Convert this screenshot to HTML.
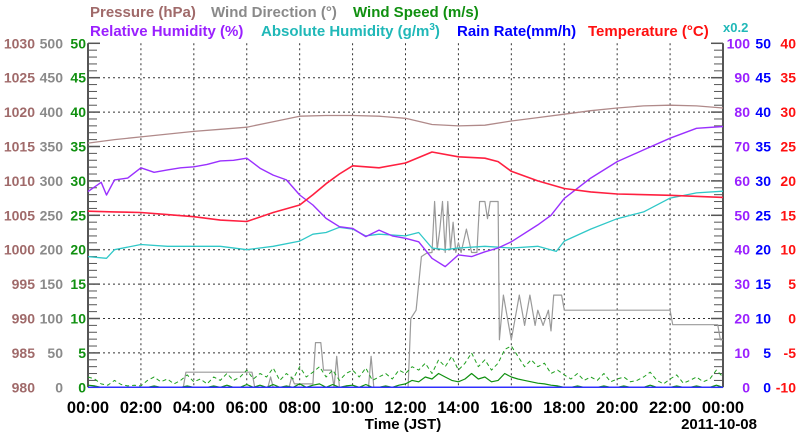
<!DOCTYPE html>
<html><head><meta charset="utf-8"><style>
html,body{margin:0;padding:0;background:#fff;}
svg{display:block;font-family:"Liberation Sans",Arial,sans-serif;}
</style></head><body>
<svg id="chart" width="800" height="434" viewBox="0 0 800 434" xmlns="http://www.w3.org/2000/svg">
<g font-size="15" font-weight="bold">
<text x="90" y="17" fill="#a06a6a">Pressure (hPa)</text>
<text x="211" y="17" fill="#8a8a8a">Wind Direction (°)</text>
<text x="353" y="17" fill="#109010">Wind Speed (m/s)</text>
<text x="90" y="36" fill="#9a20ff">Relative Humidity (%)</text>
<text x="261" y="36" fill="#20b8b8">Absolute Humidity (g/m<tspan font-size="10" dy="-6">3</tspan><tspan dy="6">)</tspan></text>
<text x="457" y="36" fill="#0000ff">Rain Rate(mm/h)</text>
<text x="588" y="36" fill="#ff1010">Temperature (°C)</text>
<text x="723" y="32" fill="#20b8b8" font-size="13">x0.2</text>
</g>
<g id="grid"></g>
<g id="axes"></g>
<g id="series"></g>
<text x="403" y="429" text-anchor="middle" font-size="15" font-weight="bold">Time (JST)</text>
<text x="757" y="429" text-anchor="end" font-size="15" font-weight="bold">2011-10-08</text>
</svg>
<script>
// ---- data ----
const xTickLabels = ["00:00","02:00","04:00","06:00","08:00","10:00","12:00","14:00","16:00","18:00","20:00","22:00","00:00"];
const pressureTicks = ["980","985","990","995","1000","1005","1010","1015","1020","1025","1030"];
const windDirTicks = ["0","50","100","150","200","250","300","350","400","450","500"];
const windSpeedTicks = ["0","5","10","15","20","25","30","35","40","45","50"];
const rhTicks = ["0","10","20","30","40","50","60","70","80","90","100"];
const rainTicks = ["0","5","10","15","20","25","30","35","40","45","50"];
const tempTicks = ["-10","-5","0","5","10","15","20","25","30","35","40"];

const pressureTimes = [0,1,2,3,4,5,6,7,8,9,10,11,12,13,14,15,16,17,18,19,20,21,22,23,24];
const pressureVals = [1015.5,1016.0,1016.4,1016.8,1017.2,1017.5,1017.8,1018.6,1019.4,1019.5,1019.5,1019.4,1019.1,1018.2,1018.0,1018.1,1018.7,1019.2,1019.7,1020.2,1020.6,1020.9,1021.0,1020.9,1020.6];

const tempTimes = [0,1,2,3,4,5,6,7,8,8.5,9,9.5,10,11,12,13,14,15,15.5,16,17,18,19,20,22,24];
const tempVals = [15.6,15.5,15.4,15.1,14.8,14.3,14.1,15.4,16.5,18.0,19.6,21.0,22.2,21.9,22.6,24.2,23.5,23.3,22.8,21.4,20.0,18.9,18.4,18.1,17.9,17.6];

const rhTimes = [0,0.5,0.7,1,1.5,2,2.5,3,3.5,4,4.5,5,5.5,6,6.5,7,7.5,8,8.5,9,9.5,10,10.5,11,11.5,12,12.5,13,13.5,14,14.5,15,15.5,16,17,17.5,18,19,20,21,22,23,24];
const rhVals = [56.9,59.6,55.9,60.3,60.8,63.8,62.5,63.2,63.8,64.1,64.8,65.8,66.0,66.6,63.7,61.7,60.3,55.9,53.0,49.1,46.7,46.2,43.8,45.7,44.0,43.3,42.3,37.5,35.1,38.5,38.0,39.4,40.5,42.3,47.2,50.0,54.9,60.8,65.6,69.0,72.4,75.3,75.8];

const absHumTimes = [0,0.7,1,2,3,4,5,6,7,8,8.5,9,9.5,10,10.5,11,12,12.5,13,13.5,14,15,16,17,17.7,18,19,20,21,22,23,24];
const absHumVals = [7.6,7.5,8.0,8.3,8.2,8.2,8.2,8.0,8.2,8.5,8.9,9.0,9.3,9.2,8.8,8.9,8.8,9.0,8.1,8.0,8.1,8.2,8.1,8.2,7.9,8.5,9.2,9.8,10.2,11.0,11.3,11.4];

const windDirTimes = [0,3.6,3.7,6.2,6.3,6.8,6.9,7.0,7.6,7.7,7.8,8.5,8.6,8.8,8.9,9.2,9.3,9.4,9.5,10.6,10.7,10.8,12.1,12.2,12.4,12.6,12.8,13.0,13.1,13.2,13.3,13.4,13.5,13.6,13.7,13.8,13.9,14.0,14.1,14.3,14.5,14.7,14.8,15.0,15.1,15.2,15.5,15.55,15.7,15.9,16.0,16.2,16.3,16.5,16.7,16.9,17.0,17.2,17.4,17.5,17.6,17.9,18.0,22.0,22.1,23.8,23.9,24];
const windDirVals = [0,0,22,22,0,0,15,0,0,15,5,5,65,65,25,25,0,45,0,0,45,0,0,100,112,190,195,196,270,200,230,270,196,270,200,240,196,210,196,230,196,196,270,270,245,270,270,69,134,90,69,112,134,90,134,90,112,90,112,82,134,134,112,112,91,91,69,69];

const windGust = [1.5,1.2,0.5,0.3,1.0,0.4,0.2,0.3,0.2,1.0,1.5,0.8,1.2,0.5,1.0,1.8,0.8,1.2,0.5,1.5,1.0,2.0,1.0,1.5,2.5,1.2,2.0,1.5,2.8,1.0,2.0,1.2,3.0,1.5,2.2,3.0,1.5,2.5,1.0,2.0,2.5,1.5,2.8,1.0,1.5,2.0,1.2,2.5,2.0,3.0,2.5,3.5,2.0,4.0,3.0,4.5,2.5,3.5,5.0,3.0,4.0,2.5,3.5,5.5,6.0,4.5,3.0,4.0,3.0,3.5,2.0,2.5,1.8,1.2,2.0,1.0,1.5,1.0,2.0,0.8,1.2,1.5,0.8,1.0,1.5,2.2,1.0,0.5,1.2,1.8,0.6,1.0,1.5,0.8,1.2,2.5,1.5];
const windAvg = [0.3,0.2,0,0,0,0,0,0,0,0,0.2,0,0,0,0,0.2,0,0,0,0.2,0,0.3,0,0,0.4,0,0.3,0,0.4,0,0.2,0,0.5,0,0.3,0.5,0,0.4,0,0.2,0.3,0,0.4,0,0,0.2,0,0.3,0.5,1.0,0.8,1.5,1.2,2.0,1.5,1.0,0.8,1.2,2.0,1.2,1.5,0.8,1.0,2.0,1.5,1.2,1.0,0.8,0.6,0.5,0.3,0.2,0,0,0.2,0,0,0,0.2,0,0,0.2,0,0,0,0.3,0,0,0,0.2,0,0,0.2,0,0,0.3,0];
const rainTimes = [0,24];
const rainVals = [0,0];

// ---- axes ----
const X0=88, X1=723, Y0=387.3, Y1=43.3;
const xS = t => X0 + t/24*(X1-X0);
const frac = f => Y0 - f*(Y0-Y1);
const yPressure = v => frac((v-980)/50);
const yTemp = v => frac((v+10)/50);
const yRH = v => frac(v/100);
const yAbs = v => frac(v/0.2/100);
const yDir = v => frac(v/500);
const ySpeed = v => frac(v/50);
const yRain = v => frac(v/50);

const NS="http://www.w3.org/2000/svg";
function mk(tag, attrs, parent){const e=document.createElementNS(NS,tag);for(const k in attrs)e.setAttribute(k,attrs[k]);parent.appendChild(e);return e;}
const grid=document.getElementById('grid'), axes=document.getElementById('axes'), series=document.getElementById('series');

for(let i=1;i<10;i++){
  const y=frac(i/10);
  const l=mk('line',{x1:X0,x2:X1,y1:y,y2:y,stroke:'#333','stroke-width':1,'stroke-dasharray':'2,3'},grid);
  
  
}
for(let i=1;i<12;i++){
  const x=xS(i*2);
  const l=mk('line',{x1:x,x2:x,y1:Y1,y2:Y0,stroke:'#333','stroke-width':1,'stroke-dasharray':'2,3'},grid);
  
  
}
let al=mk('line',{x1:X0,x2:X0,y1:Y1,y2:Y0,stroke:'#555','stroke-width':2},axes);
 
al=mk('line',{x1:X1,x2:X1,y1:Y1,y2:Y0,stroke:'#555','stroke-width':2},axes);
 
for(let i=0;i<=50;i++){
  const y=frac(i/50); const major=i%5===0; const len=major?12:9;
  let t=mk('line',{x1:X0,x2:X0+len,y1:y,y2:y,stroke:'#555','stroke-width':major?1.5:1},axes);
   
  t=mk('line',{x1:X1-len,x2:X1,y1:y,y2:y,stroke:'#555','stroke-width':major?1.5:1},axes);
   
}
function label(txt,x,y,anchor,color,name){
  const t=mk('text',{x:x,y:y,'text-anchor':anchor,fill:color,'font-size':14,'font-weight':'bold'},axes);
  t.textContent=txt;
  
  
}
for(let i=0;i<=10;i++){
  const y=frac(i/10)+5;
  label(pressureTicks[i],35,y,'end','#a06a6a','pressure-tick-label');
  label(windDirTicks[i],63,y,'end','#8a8a8a','wind-direction-tick-label');
  label(windSpeedTicks[i],86,y,'end','#109010','wind-speed-tick-label');
  label(rhTicks[i],750,y,'end','#9a20ff','rh-tick-label');
  label(rainTicks[i],771,y,'end','#0000ff','rain-tick-label');
  label(tempTicks[i],796,y,'end','#ff1010','temperature-tick-label');
}
xTickLabels.forEach((s,i)=>{
  const t=mk('text',{x:xS(i*2),y:413,'text-anchor':'middle',fill:'#000','font-size':16.5,'font-weight':'bold'},axes);
  t.textContent=s;
  
  
});

function line(times, vals, yf, color, w, name, dash){
  const pts=vals.map((v,i)=>xS(times[i]).toFixed(1)+','+yf(v).toFixed(1)).join(' ');
  const p=mk('polyline',{points:pts,fill:'none',stroke:color,'stroke-width':w,'stroke-linejoin':'round'},series);
  if(dash)p.setAttribute('stroke-dasharray',dash);
  
  
}
const evenTimes = arr => arr.map((_,i)=>i*24/(arr.length-1));
line(windDirTimes,windDirVals,yDir,'#9a9a9a',1.2,'wind-direction-line');
line(evenTimes(windGust),windGust,ySpeed,'#20a020',1,'wind-gust-line','4,3');
line(evenTimes(windAvg),windAvg,ySpeed,'#109010',1.2,'wind-speed-line');
line(rainTimes,rainVals,yRain,'#3030ff',1.5,'rain-rate-line');
line(pressureTimes,pressureVals,yPressure,'#b08a8a',1.3,'pressure-line');
line(absHumTimes,absHumVals,yAbs,'#30c8c8',1.3,'absolute-humidity-line');
line(rhTimes,rhVals,yRH,'#9a30ff',1.4,'relative-humidity-line');
line(tempTimes,tempVals,yTemp,'#ff2040',1.6,'temperature-line');
</script>
</body></html>
